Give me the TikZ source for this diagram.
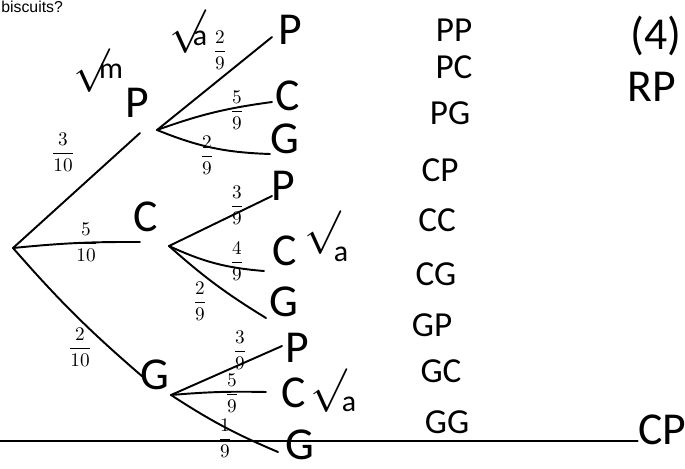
\documentclass[tikz,border=0pt]{standalone}
\usepackage{amsmath,amssymb}
\usepackage{fontspec}
\setmainfont{Carlito}
\newfontfamily\qfont{Liberation Sans}
\usetikzlibrary{positioning}
\tikzset{
  branch/.style={line width=1.1pt,line cap=round},
  pick/.style={font=\fontsize{26}{28}\selectfont,inner sep=0pt},
  prob/.style={font=\fontsize{11}{13}\selectfont,inner sep=0pt},
  combo/.style={font=\fontsize{20}{22}\selectfont,inner sep=0pt},
  okmark/.style={font=\fontsize{30}{30}\selectfont,inner sep=0pt,anchor=north west},
  oknote/.style={font=\fontsize{17}{17}\selectfont,inner sep=0pt},
}

\begin{document}
\begin{tikzpicture}[x=0.02cm,y=-0.02cm]
  \useasboundingbox (0,0) rectangle (685,468);
  \node[anchor=west,inner sep=0pt,font=\qfont\fontsize{9}{10}\selectfont] (question) at (1,7) {biscuits?};

  % first pick
  \coordinate (root) at (13,248);
  \coordinate (endP) at (140,133);
  \coordinate (endC) at (140,242);
  \coordinate (endG) at (143,377);
  \node[pick] (P) at (137,103) {P};
  \node[pick] (C) at (146,217) {C};
  \node[pick] (G) at (155,375) {G};
  \draw[branch] (root) -- (endP);
  \draw[branch] (root) to[bend left=3] (endC);
  \draw[branch] (root) to[bend right=4] (endG);
  \node[prob] (pP) at (63,152) {$\dfrac{3}{10}$};
  \node[prob] (pC) at (86,242) {$\dfrac{5}{10}$};
  \node[prob] (pG) at (80,347) {$\dfrac{2}{10}$};
  \node[okmark] (okP) at (73,48) {$\surd$};
  \node[oknote] (okPm) at (111,71) {m};

  % second pick after P
  \coordinate (forkP) at (157,130);
  \coordinate (PPend) at (272,37);
  \coordinate (PCend) at (272,102);
  \coordinate (PGend) at (270,154);
  \node[pick] (PP) at (290,30) {P};
  \node[pick] (PC) at (288,96) {C};
  \node[pick] (PG) at (285,139) {G};
  \draw[branch] (forkP) -- (PPend);
  \draw[branch] (forkP) to[bend left=6] (PCend);
  \draw[branch] (forkP) to[bend right=10] (PGend);
  \node[prob] (pPP) at (220,50) {$\dfrac{2}{9}$};
  \node[prob] (pPC) at (237,110) {$\dfrac{5}{9}$};
  \node[prob] (pPG) at (207,155) {$\dfrac{2}{9}$};
  \node[okmark] (okPP) at (169,9) {$\surd$};
  \node[oknote] (okPPa) at (200,38) {a};

  % second pick after C
  \coordinate (forkC) at (169,246);
  \coordinate (CPend) at (272,196);
  \coordinate (CCend) at (264,271);
  \coordinate (CGend) at (266,318);
  \node[pick] (CP) at (283,186) {P};
  \node[pick] (CC) at (285,251) {C};
  \node[pick] (CG) at (284,302) {G};
  \draw[branch] (forkC) -- (CPend);
  \draw[branch] (forkC) to[bend right=10] (CCend);
  \draw[branch] (forkC) to[bend right=5] (CGend);
  \node[prob] (pCP) at (237,205) {$\dfrac{3}{9}$};
  \node[prob] (pCC) at (237,261) {$\dfrac{4}{9}$};
  \node[prob] (pCG) at (200,301) {$\dfrac{2}{9}$};
  \node[okmark] (okCC) at (304,210) {$\surd$};
  \node[oknote] (okCCa) at (341,254) {a};

  % second pick after G
  \coordinate (forkG) at (171,395);
  \coordinate (GPend) at (282,346);
  \coordinate (GCend) at (266,392);
  \coordinate (GGend) at (278,452);
  \node[pick] (GP) at (297,348) {P};
  \node[pick] (GC) at (294,393) {C};
  \node[pick] (GG) at (300,445) {G};
  \draw[branch] (forkG) -- (GPend);
  \draw[branch] (forkG) to[bend left=3] (GCend);
  \draw[branch] (forkG) to[bend right=5] (GGend);
  \node[prob] (pGP) at (240,350) {$\dfrac{3}{9}$};
  \node[prob] (pGC) at (232,393) {$\dfrac{5}{9}$};
  \node[prob] (pGG) at (225,438) {$\dfrac{1}{9}$};
  \node[okmark] (okGC) at (310,368) {$\surd$};
  \node[oknote] (okGCa) at (349,404) {a};

  % outcomes
  \node[combo] (oPP) at (454,30) {PP};
  \node[combo] (oPC) at (454,67) {PC};
  \node[combo] (oPG) at (450,113) {PG};
  \node[combo] (oCP) at (440,170) {CP};
  \node[combo] (oCC) at (437,220) {CC};
  \node[combo] (oCG) at (436,274) {CG};
  \node[combo] (oGP) at (432,325) {GP};
  \node[combo] (oGC) at (441,371) {GC};
  \node[combo] (oGG) at (447,422) {GG};

  % margin
  \node[pick] (marks) at (656,36) {(4)};
  \node[pick] (rp) at (652,87) {RP};
  \node[pick] (cpR) at (662,430) {CP};
  \coordinate (lineL) at (0,441);
  \draw[branch] (lineL) -- (lineL -| cpR.west);
\end{tikzpicture}
\end{document}
